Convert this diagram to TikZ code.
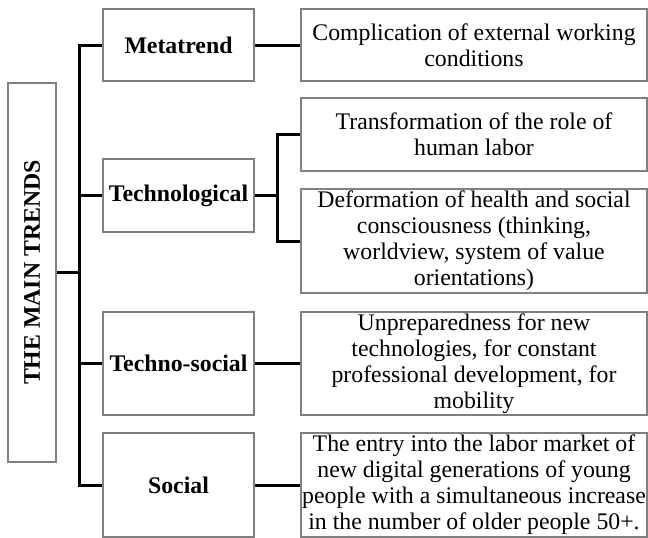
\documentclass[tikz,border=0pt]{standalone}
\usepackage{fontspec}
\setmainfont{Liberation Serif}
\begin{document}
\begin{tikzpicture}[x={(1pt,0pt)}, y={(0pt,-1pt)},
  box/.style={draw=gray, line width=1.2pt, inner sep=0pt, align=center,
    font=\fontsize{23.8}{26}\selectfont},
  trendbox/.style={box, minimum width=151pt, font=\fontsize{23.8}{26}\selectfont\bfseries},
  effectbox/.style={box, minimum width=346pt},
  conn/.style={line width=3pt, line cap=butt}]
\useasboundingbox (0,0) rectangle (648,538);

% root box with vertical caption
\node[box, rotate=90, minimum width=379pt, minimum height=48pt,
  font=\fontsize{23.8}{26}\selectfont\bfseries] (main) at (32,272.5) {THE MAIN TRENDS};

% trend boxes
\node[trendbox, minimum height=72pt]  (meta)   at (178.5,45)    {Metatrend};
\node[trendbox, minimum height=73pt]  (tech)   at (178.5,195.5) {Technological};
\node[trendbox, minimum height=103pt] (techso) at (178.5,363.5) {Techno-social};
\node[trendbox, minimum height=104pt] (social) at (178.5,485)   {Social};

% consequence boxes
\node[effectbox, minimum height=72pt]  (compl)  at (474,45)    {Complication of external working\\conditions};
\node[effectbox, minimum height=73pt]  (transf) at (474,134.5) {Transformation of the role of\\human labor};
\node[effectbox, minimum height=104pt] (deform) at (474,241)   {Deformation of health and social\\consciousness (thinking,\\worldview, system of value\\orientations)};
\node[effectbox, minimum height=103pt] (unprep) at (474,363.5) {Unpreparedness for new\\technologies, for constant\\professional development, for\\mobility};
\node[effectbox, minimum height=104pt] (entry)  at (474,485)   {The entry into the labor market of\\new digital generations of young\\people with a simultaneous increase\\in the number of older people 50+.};

% trunk joining the root to the trends
\coordinate (trunktop) at (79,45);
\coordinate (trunkbot) at (79,485);
\draw[conn, line cap=rect] (trunktop) -- (trunkbot);
\draw[conn] (main.south) -- (main.south -| trunktop);
\draw[conn] (meta.west) -- (meta.west -| trunktop);
\draw[conn] (tech.west) -- (tech.west -| trunktop);
\draw[conn] (techso.west) -- (techso.west -| trunktop);
\draw[conn] (social.west) -- (social.west -| trunktop);

% trend-to-consequence links
\draw[conn] (meta.east) -- (compl.west);
\draw[conn] (techso.east) -- (unprep.west);
\draw[conn] (social.east) -- (entry.west);

% bracket for the technological trend
\coordinate (brk) at (277,134.5);
\draw[conn, line join=miter] (transf.west) -- (brk) -- (brk |- deform.west) -- (deform.west);
\draw[conn] (tech.east) -- (tech.east -| brk);
\end{tikzpicture}
\end{document}
